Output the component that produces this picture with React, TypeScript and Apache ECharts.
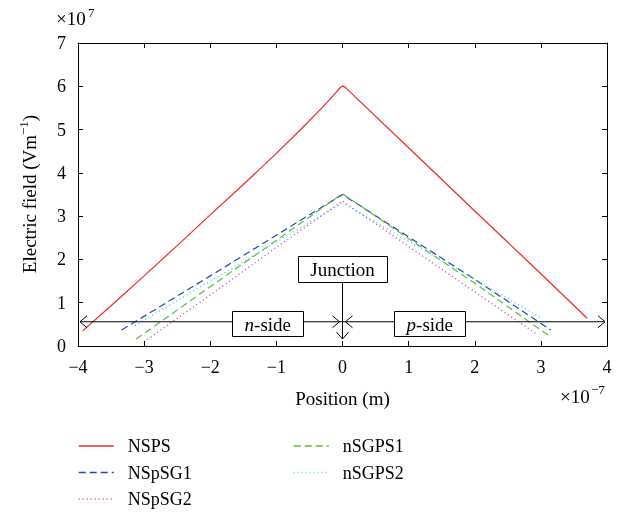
import React, { useEffect, useRef } from "react";
import * as echarts from "echarts";

// Positions (×1e-7 m) and fields (×1e7 V/m)
const nspsX = [-3.93, -3.5, -3, -2.5, -2, -1.5, -1, -0.64, -0.3, -0.12, -0.04, 0, 0.04, 0.12, 1, 2, 3, 3.7];
const nspsY = [0.35, 0.93, 1.62, 2.32, 3.03, 3.73, 4.45, 4.99, 5.52, 5.82, 5.96, 6.01, 5.98, 5.86, 4.58, 3.12, 1.67, 0.64];

const nspsg1X = [-3.34, -2, -1, 0, 1, 2, 3.15];
const nspsg1Y = [0.37, 1.62, 2.56, 3.5, 2.52, 1.54, 0.37];

const nspsg2X = [-2.95, -2, -1, 0, 1, 2, 2.93];
const nspsg2Y = [0.15, 1.18, 2.28, 3.35, 2.3, 1.25, 0.28];

const nsgps1X = [-3.12, -2, -1, 0, 1, 2, 3.12];
const nsgps1Y = [0.16, 1.37, 2.44, 3.52, 2.48, 1.45, 0.24];

const nsgps2X = [-3.14, -2, -1, 0, 1, 2, 3.01];
const nsgps2Y = [0.47, 1.5, 2.4, 3.3, 2.42, 1.54, 0.64];

const xTicks = { min: -4, max: 4, interval: 1 };
const yTicks = { min: 0, max: 7, interval: 1 };

// annotation anchors (data units)
const arrowY = 0.56;
const arrowLeft = -3.97;
const arrowRight = 3.97;
const junctionX = 0;
const junctionBoxY = 1.78;
const junctionTipY = 0.16;
const nSideX = -1.13;
const pSideX = 1.32;
const sideBoxY = 0.53;

const FONT = "'Liberation Serif', 'DejaVu Serif', serif";

const COLORS: Record<string, string> = {
  NSPS: "#f02828",
  NSpSG1: "#2a48a8",
  NSpSG2: "#cc44bb",
  nSGPS1: "#62bb3c",
  nSGPS2: "#50cce6",
};
const DASH: Record<string, any> = {
  NSPS: "solid",
  NSpSG1: [7, 4],
  NSpSG2: [1, 3],
  nSGPS1: [7, 4],
  nSGPS2: [1, 3],
};

const pairs = (xs: number[], ys: number[]) => xs.map((x, i) => [x, ys[i]]);

export default function App() {
  const ref = useRef<HTMLDivElement>(null);
  useEffect(() => {
    const chart = echarts.init(ref.current!, null, { renderer: "svg" });
    const axisLine = { show: true, onZero: false, lineStyle: { color: "#000", width: 1 } };
    const tick = { show: true, inside: true, length: 5, lineStyle: { color: "#000" } };
    const minus = (v: number) => String(v).replace("-", "\u2212");
    const lineSeries = (name: string, data: number[][], width = 1.2) => ({
      name,
      type: "line",
      data,
      symbol: "none",
      showSymbol: false,
      smooth: false,
      itemStyle: { color: COLORS[name] },
      lineStyle: { color: COLORS[name], width, type: DASH[name] },
      z: 3,
    });
    const legendItem = (name: string) => ({
      name,
      itemStyle: { opacity: 0 },
      lineStyle: { color: COLORS[name], type: DASH[name], width: 1.4 },
    });
    const legendBase = {
      top: 437,
      orient: "vertical",
      padding: 0,
      height: 100,
      itemWidth: 35,
      itemHeight: 14,
      itemGap: 8.5,
      itemStyle: { opacity: 0, borderWidth: 0 },
      textStyle: { fontFamily: FONT, fontSize: 18, color: "#000", padding: [0, 0, 0, 9] },
    };
    chart.setOption({
      animation: false,
      grid: { left: 78, top: 43, right: 21, bottom: 168 },
      xAxis: [
        {
          type: "value",
          ...xTicks,
          axisLine,
          axisTick: tick,
          splitLine: { show: false },
          axisLabel: { formatter: minus, fontFamily: FONT, fontSize: 18, color: "#000", margin: 12 },
          name: "Position (m)",
          nameLocation: "middle",
          nameGap: 43,
          nameTextStyle: { fontFamily: FONT, fontSize: 19, color: "#000" },
        },
        {
          type: "value",
          position: "top",
          ...xTicks,
          axisLine,
          axisTick: tick,
          splitLine: { show: false },
          axisLabel: { show: false },
        },
      ],
      yAxis: [
        {
          type: "value",
          ...yTicks,
          axisLine,
          axisTick: tick,
          splitLine: { show: false },
          axisLabel: { fontFamily: FONT, fontSize: 18, color: "#000", margin: 12 },
        },
        {
          type: "value",
          position: "right",
          ...yTicks,
          axisLine,
          axisTick: tick,
          splitLine: { show: false },
          axisLabel: { show: false },
        },
      ],
      legend: [
        { ...legendBase, left: 78, data: ["NSPS", "NSpSG1", "NSpSG2"].map(legendItem) },
        { ...legendBase, left: 293, data: ["nSGPS1", "nSGPS2"].map(legendItem) },
      ],
      series: [
        lineSeries("NSPS", pairs(nspsX, nspsY), 1.2),
        lineSeries("NSpSG1", pairs(nspsg1X, nspsg1Y), 1.2),
        lineSeries("NSpSG2", pairs(nspsg2X, nspsg2Y), 1.4),
        lineSeries("nSGPS1", pairs(nsgps1X, nsgps1Y), 1.2),
        lineSeries("nSGPS2", pairs(nsgps2X, nsgps2Y), 1.4),
      ],
    });

    const p = (x: number, y: number) =>
      chart.convertToPixel({ xAxisIndex: 0, yAxisIndex: 0 }, [x, y]) as number[];
    const L = p(arrowLeft, arrowY);
    const R = p(arrowRight, arrowY);
    const C = p(junctionX, arrowY);
    const J = p(junctionX, junctionBoxY);
    const T = p(junctionX, junctionTipY);
    const N = p(nSideX, sideBoxY);
    const P = p(pSideX, sideBoxY);
    const stroke = { stroke: "#000", lineWidth: 1, fill: "none" };
    const chev = (pts: number[][]) => ({ type: "polyline", z: 20, shape: { points: pts }, style: stroke });
    const box = (cx: number, cy: number, w: number, h: number) => ({
      type: "rect",
      z: 21,
      shape: { x: Math.round(cx - w / 2) + 0.5, y: Math.round(cy - h / 2) + 0.5, width: w, height: h },
      style: { fill: "#fff", stroke: "#000", lineWidth: 1 },
    });
    const label = (cx: number, cy: number, text: string) => ({
      type: "text",
      z: 22,
      x: cx,
      y: cy,
      style: {
        text,
        fill: "#000",
        fontFamily: FONT,
        fontSize: 19,
        align: "center",
        verticalAlign: "middle",
        rich: { i: { fontStyle: "italic", fontFamily: FONT, fontSize: 19, fill: "#000" } },
      },
    });
    const jBoxH = 26;
    chart.setOption({
      graphic: [
        { type: "line", z: 20, shape: { x1: L[0], y1: L[1], x2: R[0], y2: R[1] }, style: stroke },
        { type: "line", z: 20, shape: { x1: C[0], y1: J[1] + jBoxH / 2, x2: C[0], y2: T[1] }, style: stroke },
        chev([[L[0] + 7, L[1] - 6], [L[0], L[1]], [L[0] + 7, L[1] + 6]]),
        chev([[R[0] - 7, R[1] - 6], [R[0], R[1]], [R[0] - 7, R[1] + 6]]),
        chev([[C[0] - 10, C[1] - 6], [C[0] - 3, C[1]], [C[0] - 10, C[1] + 6]]),
        chev([[C[0] + 10, C[1] - 6], [C[0] + 3, C[1]], [C[0] + 10, C[1] + 6]]),
        chev([[T[0] - 6, T[1] - 7], [T[0], T[1]], [T[0] + 6, T[1] - 7]]),
        box(J[0], J[1], 89, jBoxH),
        label(J[0], J[1] + 1, "Junction"),
        box(N[0], N[1], 71, 25),
        label(N[0], N[1] + 1, "{i|n}-side"),
        box(P[0], P[1], 71, 25),
        label(P[0], P[1] + 1, "{i|p}-side"),
        // exponent labels
        { type: "text", z: 22, x: 56, y: 18, style: { text: "\u00d710", fill: "#000", fontFamily: FONT, fontSize: 19, verticalAlign: "middle" } },
        { type: "text", z: 22, x: 88, y: 12, style: { text: "7", fill: "#000", fontFamily: FONT, fontSize: 13, verticalAlign: "middle" } },
        { type: "text", z: 22, x: 560, y: 396, style: { text: "\u00d710", fill: "#000", fontFamily: FONT, fontSize: 19, verticalAlign: "middle" } },
        { type: "text", z: 22, x: 591, y: 389, style: { text: "\u22127", fill: "#000", fontFamily: FONT, fontSize: 13, verticalAlign: "middle" } },
        // y-axis name
        {
          type: "text",
          z: 22,
          x: 28,
          y: 194,
          rotation: Math.PI / 2,
          style: {
            text: "{a|Electric field (Vm}{s|\u22121}{a|)}",
            align: "center",
            verticalAlign: "middle",
            fill: "#000",
            rich: {
              a: { fontFamily: FONT, fontSize: 19, fill: "#000", verticalAlign: "bottom", lineHeight: 22 },
              s: { fontFamily: FONT, fontSize: 13, fill: "#000", verticalAlign: "bottom", padding: [0, 0, 9, 0] },
            },
          },
        },
      ],
    });
    return () => chart.dispose();
  }, []);
  return <div ref={ref} style={{ position: "fixed", left: 0, top: 0, width: 628, height: 514 }} />;
}
